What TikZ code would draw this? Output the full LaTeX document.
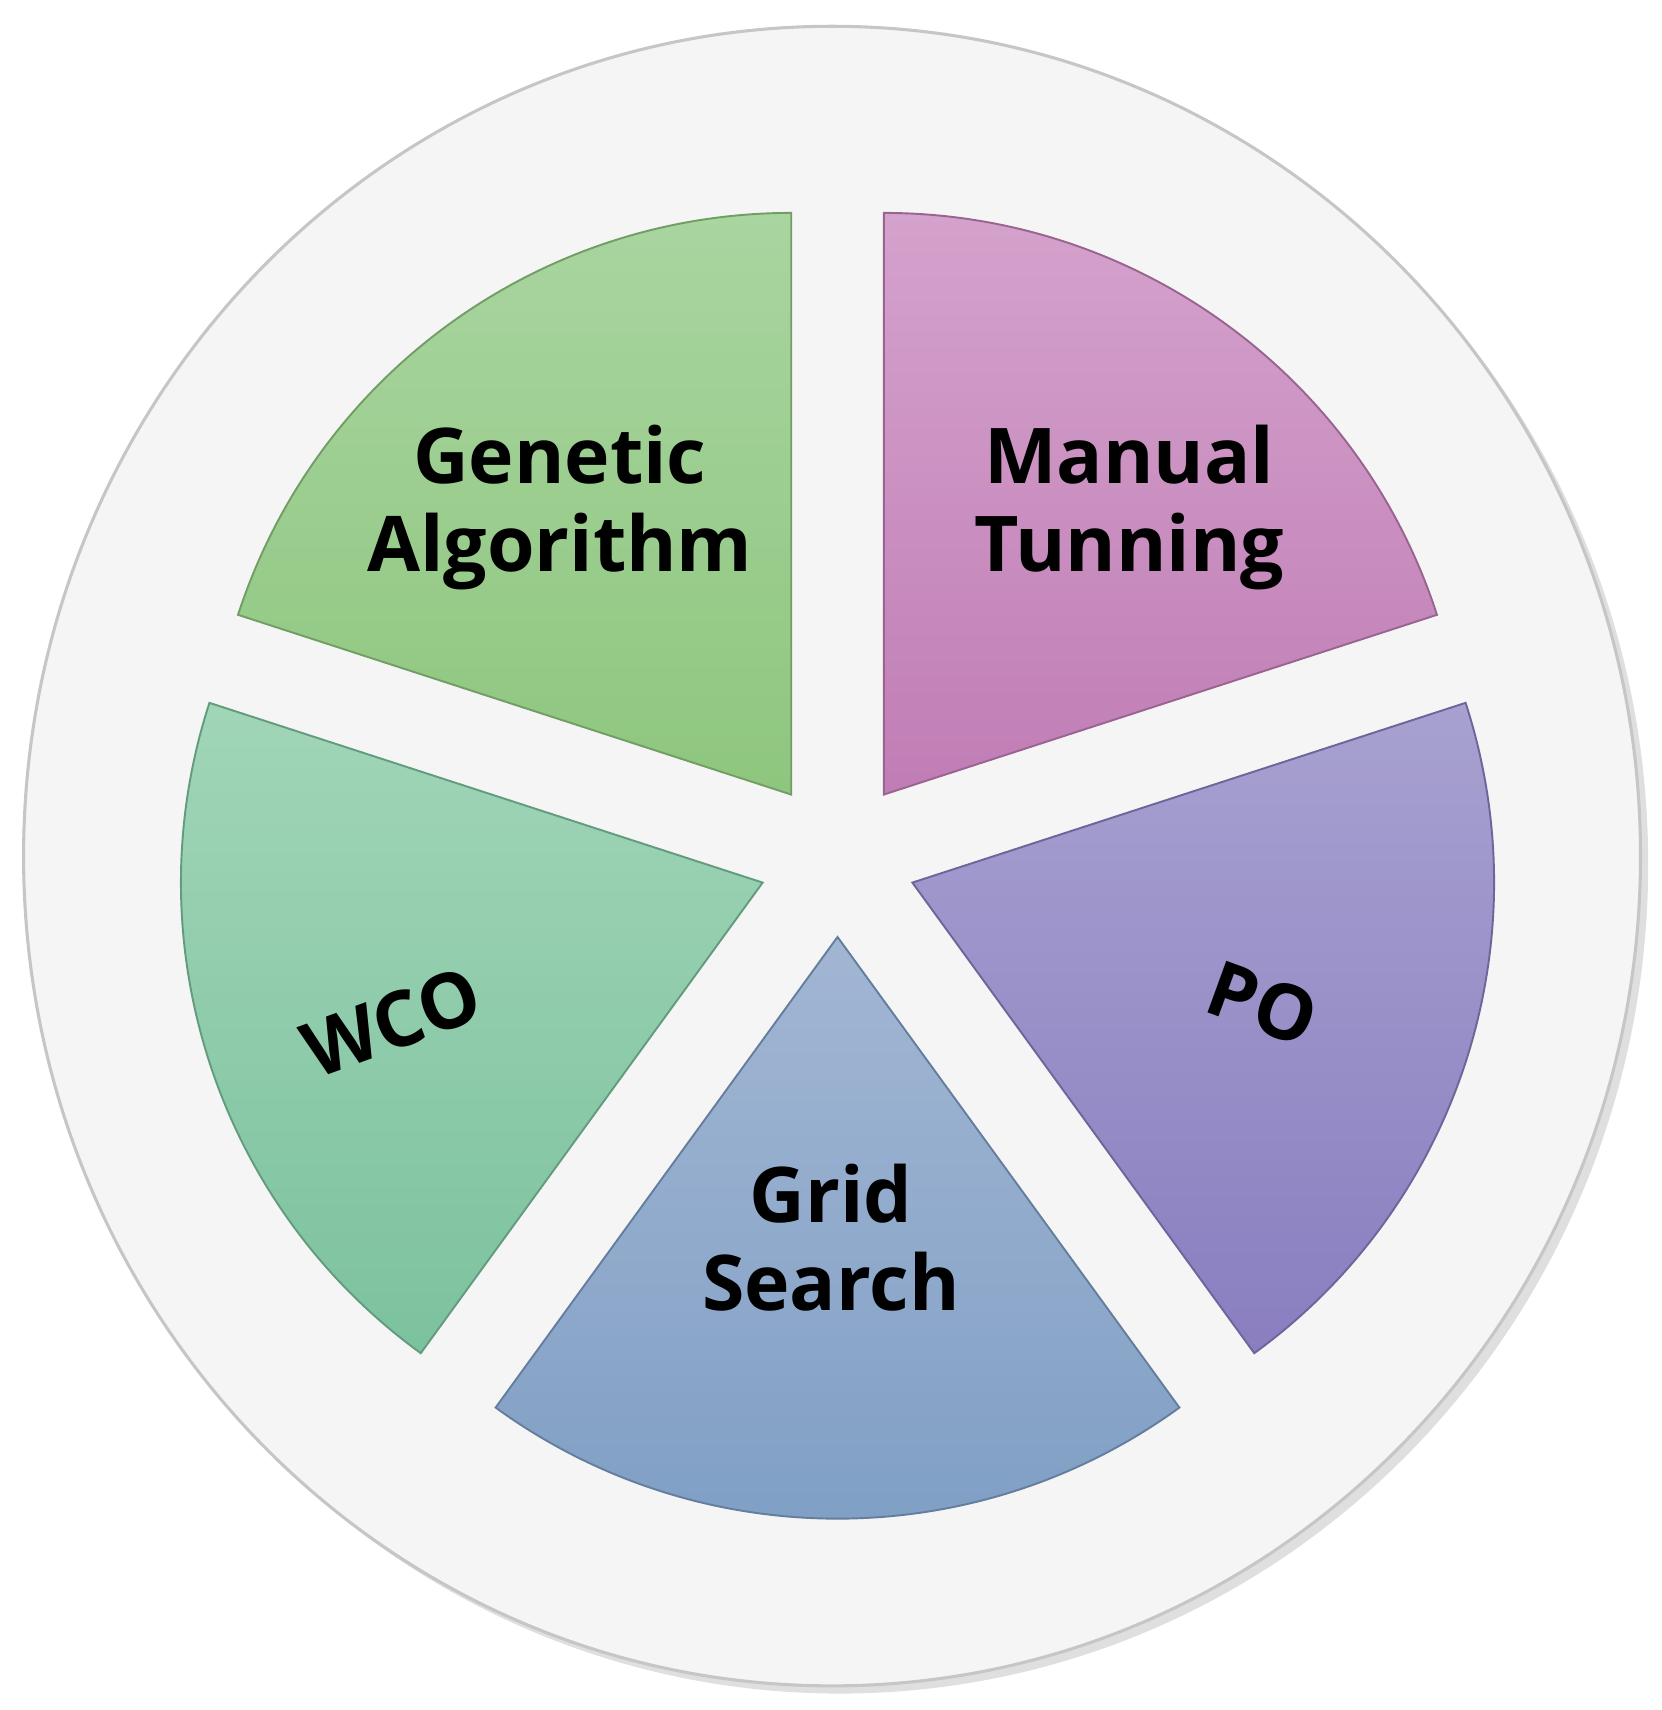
\documentclass[tikz,border=0pt]{standalone}
\usepackage{fontspec}
\setmainfont{Open Sans}
\usetikzlibrary{calc,shadows,shapes.geometric}
\begin{document}
\begin{tikzpicture}[x=0.01cm,y=0.01cm,
  lbl/.style={font=\bfseries\fontsize{20}{25}\selectfont, align=center, text=black}]
\useasboundingbox (0,0) rectangle (1520,1564);
\node[ellipse, minimum width=14.78cm, minimum height=15.17cm, fill=gray!8, draw=gray!45, line width=0.8pt,
  drop shadow={opacity=0.25,shadow xshift=2pt,shadow yshift=-2pt}, inner sep=0] (outer) at (761,781) {};
\coordinate (C) at (766,779);
\def\R{532}
\foreach \nm/\a/\ct/\cb in {gen/90/A9D5A0/8EC67E, man/18/D4A2CC/C07DB5, po/-54/A7A1D0/8A7EC0, grid/-126/A2B6D3/7E9EC4, wco/162/A1D5B8/7CC29E}{
  \coordinate (\nm) at ($(C)+(\a+36:72)$);
  \definecolor{ct}{HTML}{\ct}\definecolor{cb}{HTML}{\cb}
  \draw[top color=ct, bottom color=cb, draw=cb!80!black, line width=0.5pt]
    (\nm) -- ++(\a:\R) arc[start angle=\a, end angle=\a+72, radius=\R] -- cycle;
}
\node[lbl] (t1) at (512,1100) {Genetic\\[-2pt]Algorithm};
\node[lbl] (t2) at (1033,1100) {Manual\\[-2pt]Tunning};
\node[lbl, rotate=20] (t3) at (358,629) {WCO};
\node[lbl, rotate=-20] (t4) at (1155,646) {PO};
\node[lbl] (t5) at (760,432) {Grid\\[-2pt]Search};
\end{tikzpicture}
\end{document}
